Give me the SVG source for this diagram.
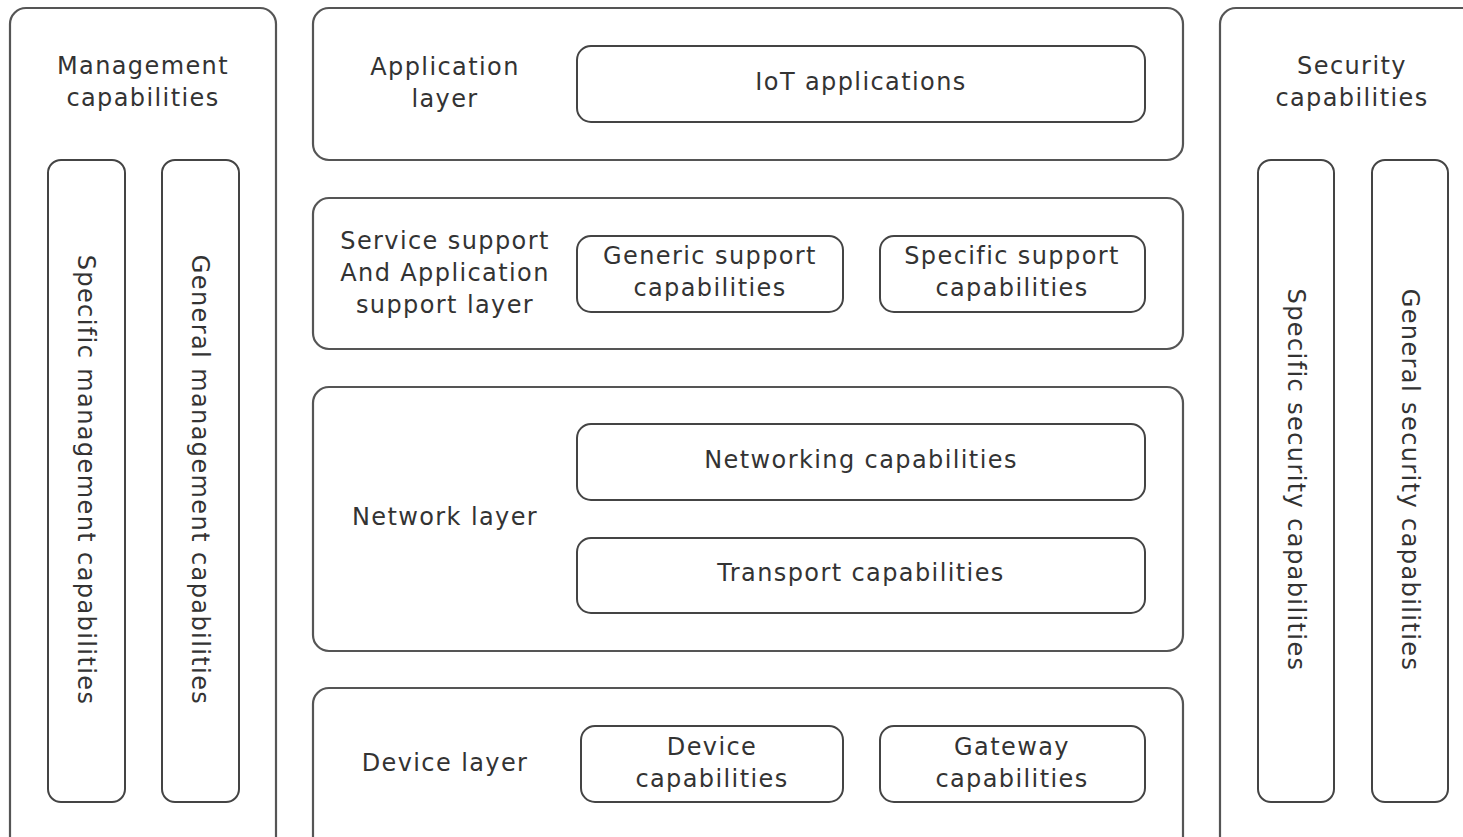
<svg xmlns="http://www.w3.org/2000/svg" width="1463" height="837" viewBox="0 0 1463 837">
<style>
.outer{fill:#fff;stroke:#555;stroke-width:2.2}
.inner{fill:#fff;stroke:#444;stroke-width:2}
text{font-family:"DejaVu Sans","Verdana",sans-serif;font-size:24px;letter-spacing:1.4px;fill:#333;text-anchor:middle}
</style>
<rect width="1463" height="837" fill="#fff"/>
<g id="management">
<rect class="outer" x="10" y="8" width="266" height="845" rx="16"/>
<text x="143" y="74">Management</text>
<text x="143" y="106">capabilities</text>
</g>
<g id="specific-management">
<rect class="inner" x="48" y="160" width="77" height="642" rx="13"/>
<text transform="translate(86,480) rotate(90)" y="8">Specific management capabilities</text>
</g>
<g id="general-management">
<rect class="inner" x="162" y="160" width="77" height="642" rx="13"/>
<text transform="translate(200,480) rotate(90)" y="8">General management capabilities</text>
</g>
<g id="application-layer">
<rect class="outer" x="313" y="8" width="870" height="152" rx="16"/>
<text x="445" y="75">Application</text>
<text x="445" y="107">layer</text>
</g>
<g id="iot-applications">
<rect class="inner" x="577" y="46" width="568" height="76" rx="14"/>
<text x="861" y="90">IoT applications</text>
</g>
<g id="service-support-layer">
<rect class="outer" x="313" y="198" width="870" height="151" rx="16"/>
<text x="445" y="249">Service support</text>
<text x="445" y="281">And Application</text>
<text x="445" y="313">support layer</text>
</g>
<g id="generic-support">
<rect class="inner" x="577" y="236" width="266" height="76" rx="14"/>
<text x="710" y="264">Generic support</text>
<text x="710" y="296">capabilities</text>
</g>
<g id="specific-support">
<rect class="inner" x="880" y="236" width="265" height="76" rx="14"/>
<text x="1012" y="264">Specific support</text>
<text x="1012" y="296">capabilities</text>
</g>
<g id="network-layer">
<rect class="outer" x="313" y="387" width="870" height="264" rx="16"/>
<text x="445" y="525">Network layer</text>
</g>
<g id="networking">
<rect class="inner" x="577" y="424" width="568" height="76" rx="14"/>
<text x="861" y="468">Networking capabilities</text>
</g>
<g id="transport">
<rect class="inner" x="577" y="538" width="568" height="75" rx="14"/>
<text x="861" y="581">Transport capabilities</text>
</g>
<g id="device-layer">
<rect class="outer" x="313" y="688" width="870" height="165" rx="16"/>
<text x="445" y="771">Device layer</text>
</g>
<g id="device-capabilities">
<rect class="inner" x="581" y="726" width="262" height="76" rx="14"/>
<text x="712" y="755">Device</text>
<text x="712" y="787">capabilities</text>
</g>
<g id="gateway-capabilities">
<rect class="inner" x="880" y="726" width="265" height="76" rx="14"/>
<text x="1012" y="755">Gateway</text>
<text x="1012" y="787">capabilities</text>
</g>
<g id="security">
<rect class="outer" x="1220" y="8" width="270" height="845" rx="16"/>
<text x="1352" y="74">Security</text>
<text x="1352" y="106">capabilities</text>
</g>
<g id="specific-security">
<rect class="inner" x="1258" y="160" width="76" height="642" rx="13"/>
<text transform="translate(1296,480) rotate(90)" y="8">Specific security capabilities</text>
</g>
<g id="general-security">
<rect class="inner" x="1372" y="160" width="76" height="642" rx="13"/>
<text transform="translate(1410,480) rotate(90)" y="8">General security capabilities</text>
</g>
<g id="connectors"></g>
</svg>
